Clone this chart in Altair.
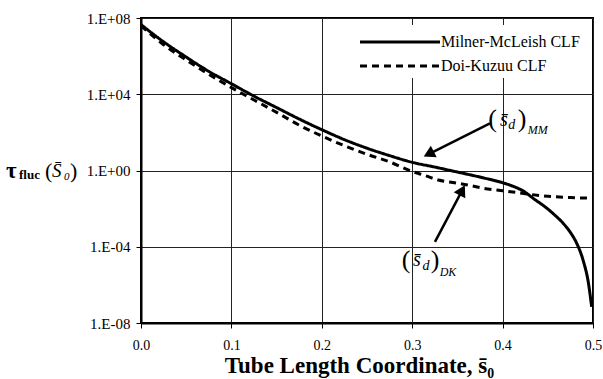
import altair as alt
import pandas as pd

# ---------------- data ----------------
mm_x = [0.0, 0.025, 0.05, 0.075, 0.10, 0.125, 0.15, 0.175, 0.20, 0.225, 0.25, 0.275,
        0.30, 0.325, 0.347, 0.38, 0.40, 0.41, 0.423, 0.435, 0.449, 0.458, 0.467,
        0.475, 0.482, 0.489, 0.495, 0.4985]
mm_log = [7.65, 6.75, 5.95, 5.2, 4.55, 3.9, 3.3, 2.7, 2.14, 1.62, 1.17, 0.78,
          0.43, 0.18, -0.05, -0.40, -0.64, -0.8, -1.08, -1.5, -1.98, -2.35, -2.77,
          -3.25, -3.82, -4.70, -5.92, -7.15]

dk_x = [0.0, 0.025, 0.05, 0.075, 0.10, 0.125, 0.15, 0.175, 0.20, 0.225, 0.25, 0.275,
        0.30, 0.315, 0.329, 0.345, 0.358, 0.38, 0.40, 0.415, 0.43, 0.45, 0.475, 0.50]
dk_log = [7.6, 6.6, 5.8, 5.05, 4.35, 3.7, 3.05, 2.38, 1.81, 1.3, 0.85, 0.45,
          -0.05, -0.28, -0.5, -0.63, -0.73, -0.94, -1.06, -1.15, -1.25, -1.35, -1.42, -1.45]

series_names = ["Milner-McLeish CLF", "Doi-Kuzuu CLF"]
series_dash = [[1, 0], [7, 5]]

x_tick_values = [0.0, 0.1, 0.2, 0.3, 0.4, 0.5]
y_tick_values = [1e-8, 1e-4, 1.0, 1e4, 1e8]
y_tick_labels = ["1.E-08", "1.E-04", "1.E+00", "1.E+04", "1.E+08"]

# annotation pieces (x, log10 y)
paren_text = ["(", ")", "(", ")"]
paren_x = [0.389, 0.4215, 0.2931, 0.3252]
paren_log = [2.70, 2.70, -4.70, -4.70]

ital_text = ["s\u0304", "d", "MM", "s\u0304", "d", "DK"]
ital_x = [0.4015, 0.410, 0.439, 0.3053, 0.3153, 0.3396]
ital_log = [2.65, 2.39, 2.12, -4.70, -5.01, -5.33]
ital_size = [20, 14, 12, 20, 14, 12]

arrow_x = [0.386, 0.3252]
arrow_log = [2.47, -3.74]
arrow_x2 = [0.3183, 0.3553]
arrow_log2 = [0.865, -1.04]
arrow_angle = [243, 28]

# legend layout (pixel offsets from plot origin)
leg_box = {"x": 211, "x2": 449, "y": 7, "y2": 60}
leg_line_x = [219, 219]
leg_line_x2 = [299, 299]
leg_row_y = [24, 48]
leg_text_x = [300, 300]

# y-axis title pieces (pixel offsets from plot origin)
yt_bold_text = ["\u03c4", "fluc"]
yt_bold_px = [-135, -122]
yt_bold_py = [153, 157]
yt_bold_size = [23, 13]

yt_paren_text = ["(", ")"]
yt_paren_px = [-96, -71]
yt_paren_py = [153, 153]

yt_ital_text = ["S\u0304", "0"]
yt_ital_px = [-89, -77]
yt_ital_py = [153, 159]
yt_ital_size = [19, 11]

# ---------------- build tables ----------------
lines = pd.concat([
    pd.DataFrame({"x": mm_x, "y": [10 ** v for v in mm_log], "series": series_names[0]}),
    pd.DataFrame({"x": dk_x, "y": [10 ** v for v in dk_log], "series": series_names[1]}),
])
parens = pd.DataFrame({"t": paren_text, "x": paren_x, "y": [10 ** v for v in paren_log]})
itals = pd.DataFrame({"t": ital_text, "x": ital_x, "y": [10 ** v for v in ital_log], "s": ital_size})
arrows = pd.DataFrame({"x": arrow_x, "y": [10 ** v for v in arrow_log],
                       "x2": arrow_x2, "y2": [10 ** v for v in arrow_log2], "a": arrow_angle})
legbox = pd.DataFrame([leg_box])
legrows = pd.DataFrame({"series": series_names, "x": leg_line_x, "x2": leg_line_x2,
                        "y": leg_row_y, "tx": leg_text_x})
yt_bold = pd.DataFrame({"t": yt_bold_text, "px": yt_bold_px, "py": yt_bold_py, "s": yt_bold_size})
yt_paren = pd.DataFrame({"t": yt_paren_text, "px": yt_paren_px, "py": yt_paren_py})
yt_ital = pd.DataFrame({"t": yt_ital_text, "px": yt_ital_px, "py": yt_ital_py, "s": yt_ital_size})

# label expression from the label list
expr = "'" + y_tick_labels[-1] + "'"
for v, lab in reversed(list(zip(y_tick_values[:-1], y_tick_labels[:-1]))):
    expr = f"datum.value < {v * 10} ? '{lab}' : " + expr

FONT = "Liberation Serif"

xs = alt.Scale(domain=[0, 0.5], nice=False, zero=False)
ys = alt.Scale(type="log", domain=[1e-8, 1e8], nice=False)
dash_scale = alt.Scale(domain=series_names, range=series_dash)

base_x = alt.X("x:Q", scale=xs,
               axis=alt.Axis(values=x_tick_values, format=".1f",
                             title="Tube Length Coordinate, s\u0304\u2080",
                             titleFont=FONT, titleFontSize=23, titleFontWeight="bold",
                             titleColor="black", titlePadding=2, titleX=218,
                             labelFont=FONT, labelFontSize=14, labelColor="black",
                             labelPadding=10, tickSize=5, tickColor="black",
                             domainColor="black", domainWidth=2,
                             grid=True, gridColor="#222", gridWidth=1, labelFlush=False))
base_y = alt.Y("y:Q", scale=ys,
               axis=alt.Axis(values=y_tick_values, labelExpr=expr, title=None,
                             labelFont=FONT, labelFontSize=15, labelColor="black",
                             labelPadding=6, tickSize=5, tickColor="black",
                             domainColor="black", domainWidth=2,
                             grid=True, gridColor="#222", gridWidth=1))

line_layer = alt.Chart(lines).mark_line(color="black", strokeWidth=3, interpolate="monotone",
                                        clip=True).encode(
    x=base_x, y=base_y,
    strokeDash=alt.StrokeDash("series:N", scale=dash_scale, legend=None),
    detail="series:N",
)

legbox_layer = alt.Chart(legbox).mark_rect(fill="white", stroke=None).encode(
    x=alt.X("x:Q", scale=None), x2="x2:Q", y=alt.Y("y:Q", scale=None), y2="y2:Q")
legline_layer = alt.Chart(legrows).mark_rule(color="black", strokeWidth=3).encode(
    x=alt.X("x:Q", scale=None), x2="x2:Q", y=alt.Y("y:Q", scale=None),
    strokeDash=alt.StrokeDash("series:N", scale=dash_scale, legend=None))
legtext_layer = alt.Chart(legrows).mark_text(font=FONT, fontSize=16, color="black",
                                             align="left", baseline="middle").encode(
    x=alt.X("tx:Q", scale=None), y=alt.Y("y:Q", scale=None), text="series:N")

paren_layer = alt.Chart(parens).mark_text(font=FONT, fontSize=26, color="black").encode(
    x=alt.X("x:Q", scale=xs), y=alt.Y("y:Q", scale=ys), text="t:N")

ital_layer = alt.Chart(itals).mark_text(font=FONT, fontStyle="italic", color="black").encode(
    x=alt.X("x:Q", scale=xs), y=alt.Y("y:Q", scale=ys), text="t:N",
    size=alt.Size("s:Q", scale=None))

arrow_layer = alt.Chart(arrows).mark_rule(color="black", strokeWidth=2.5).encode(
    x=alt.X("x:Q", scale=xs), y=alt.Y("y:Q", scale=ys), x2="x2:Q", y2="y2:Q")

head_layer = alt.Chart(arrows).mark_point(shape="triangle-up", filled=True, color="black",
                                          size=170, opacity=1).encode(
    x=alt.X("x2:Q", scale=xs), y=alt.Y("y2:Q", scale=ys),
    angle=alt.Angle("a:Q", scale=None))

ytb_layer = alt.Chart(yt_bold).mark_text(font=FONT, fontWeight="bold", color="black",
                                         align="left").encode(
    x=alt.X("px:Q", scale=None), y=alt.Y("py:Q", scale=None), text="t:N",
    size=alt.Size("s:Q", scale=None))
ytp_layer = alt.Chart(yt_paren).mark_text(font=FONT, fontSize=22, color="black",
                                          align="left").encode(
    x=alt.X("px:Q", scale=None), y=alt.Y("py:Q", scale=None), text="t:N")
yti_layer = alt.Chart(yt_ital).mark_text(font=FONT, fontStyle="italic", color="black",
                                         align="left").encode(
    x=alt.X("px:Q", scale=None), y=alt.Y("py:Q", scale=None), text="t:N",
    size=alt.Size("s:Q", scale=None))

chart = alt.layer(line_layer, legbox_layer, legline_layer, legtext_layer,
                  paren_layer, ital_layer, arrow_layer, head_layer,
                  ytb_layer, ytp_layer, yti_layer).resolve_scale(strokeDash="shared").properties(
    width=452, height=305,
    autosize=alt.AutoSizeParams(type="none"),
    padding={"left": 141, "top": 18, "right": 10, "bottom": 56},
    background="white",
).configure_view(stroke="black", strokeWidth=2)

chart.save("out.html", embed_options={"renderer": "svg", "actions": False})
